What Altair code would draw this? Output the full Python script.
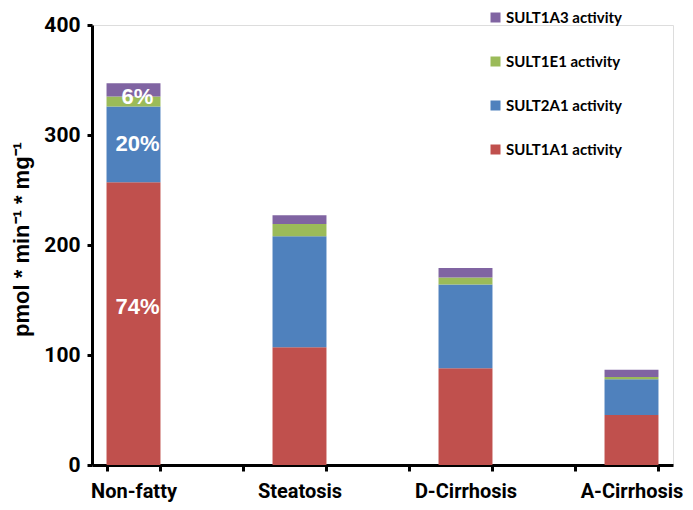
import altair as alt
import pandas as pd

categories = ["Non-fatty", "Steatosis", "D-Cirrhosis", "A-Cirrhosis"]
x_domain = ["Non-fatty", "_1", "Steatosis", "_2", "D-Cirrhosis", "_3", "A-Cirrhosis"]
series = ["SULT1A1 activity", "SULT2A1 activity", "SULT1E1 activity", "SULT1A3 activity"]
colors = ["#C0504D", "#4F81BD", "#9BBB59", "#8064A2"]

sult1a1 = [257, 107, 88, 45.5]
sult2a1 = [69, 101, 76, 32.5]
sult1e1 = [9, 11, 6.5, 2]
sult1a3 = [12, 8, 8.5, 6.5]

pct_labels = ["74%", "20%", "6%"]
pct_at = [144, 292, 335]
pct_cat = ["Non-fatty", "Non-fatty", "Non-fatty"]

rows = []
for s_i, (name, vals) in enumerate(zip(series, [sult1a1, sult2a1, sult1e1, sult1a3])):
    for c, v in zip(categories, vals):
        rows.append({"category": c, "series": name, "value": v, "order": s_i})
df = pd.DataFrame(rows)
lab = pd.DataFrame({"category": pct_cat, "value": pct_at, "text": pct_labels})

tickfont = "Roboto, Liberation Sans, sans-serif"

x_enc = alt.X(
    "category:N",
    sort=None,
    scale=alt.Scale(domain=x_domain, paddingInner=0.35, paddingOuter=0.175),
    axis=alt.Axis(
        title=None,
        tickBand="extent",
        labelExpr="substring(datum.value, 0, 1) == '_' ? '' : datum.value",
        labelFont=tickfont,
        labelFontSize=20,
        labelFontWeight="bold",
        labelColor="black",
        labelPadding=10,
        labelAngle=0,
        domainColor="black",
        domainWidth=3,
        tickColor="black",
        tickWidth=3,
        tickSize=6,
        grid=False,
    ),
)

bars = alt.Chart(df).mark_bar().encode(
    x=x_enc,
    y=alt.Y(
        "value:Q",
        stack="zero",
        scale=alt.Scale(domain=[0, 400], nice=False),
        axis=alt.Axis(
            title="pmol * min⁻¹ * mg⁻¹",
            values=[0, 100, 200, 300, 400],
            labelFont=tickfont,
            labelFontSize=21,
            labelFontWeight="bold",
            labelColor="black",
            labelPadding=7,
            titleFont="Liberation Sans, Arial, sans-serif",
            titleFontSize=22,
            titleFontWeight="bold",
            titleColor="black",
            titleX=-71,
            titleY=214,
            titleAngle=270,
            titleAlign="center",
            titleBaseline="middle",
            domainColor="black",
            domainWidth=3,
            tickColor="black",
            tickWidth=3,
            tickSize=5,
            grid=False,
        ),
    ),
    color=alt.Color(
        "series:N",
        scale=alt.Scale(domain=series, range=colors),
        legend=alt.Legend(
            title=None,
            values=list(reversed(series)),
            orient="none",
            legendX=396,
            legendY=-15,
            symbolType="square",
            symbolSize=100,
            symbolStrokeWidth=0,
            labelFont="Lato, Open Sans, sans-serif",
            labelFontSize=15,
            labelFontWeight="bold",
            labelColor="black",
            labelOffset=3,
            rowPadding=28,
            padding=0,
        ),
    ),
    order=alt.Order("order:Q"),
)

texts = alt.Chart(lab).mark_text(
    color="white",
    font="Liberation Sans, Arial, sans-serif",
    fontSize=22,
    fontWeight="bold",
    dx=4,
    baseline="middle",
).encode(
    x=alt.X("category:N", sort=None, scale=alt.Scale(domain=x_domain)),
    y=alt.Y("value:Q"),
    text="text:N",
)

chart = (
    alt.layer(bars, texts)
    .properties(
        width=581,
        height=440,
        autosize=alt.AutoSizeParams(type="none"),
        padding={"left": 84, "top": 17, "right": 12, "bottom": 37},
    )
    .configure_view(stroke=None)
    .configure(background="white")
)

chart.save("out.html", embed_options={"renderer": "svg", "actions": False})
